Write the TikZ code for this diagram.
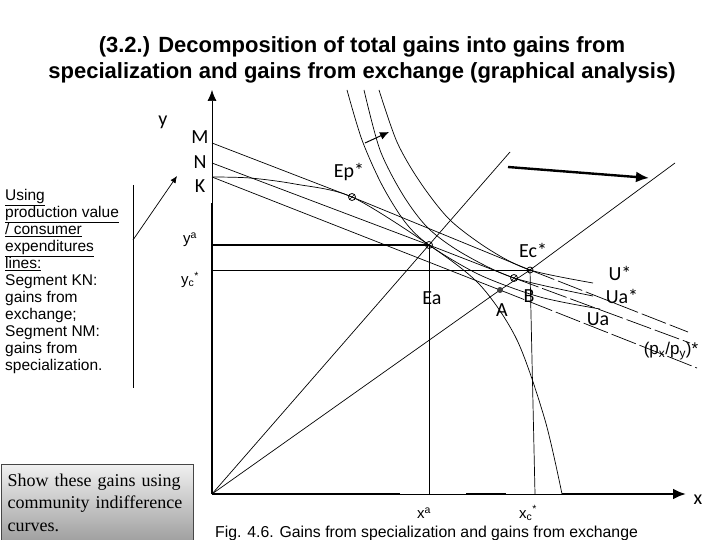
\documentclass[tikz,border=0pt]{standalone}
\usepackage{fontspec}
\setmainfont{Liberation Sans}
\newfontfamily\calfont{Carlito}
\newfontfamily\boxfont{Liberation Serif}
\usetikzlibrary{arrows.meta,positioning,calc}
\definecolor{boxtop}{RGB}{240,240,240}
\definecolor{boxbot}{RGB}{160,160,160}
\definecolor{boxedge}{RGB}{70,70,70}

\begin{document}
\begin{tikzpicture}[x=1pt, y=-1pt,
    thin line/.style={line width=0.7pt},
    gappy/.style={line width=0.7pt, dash pattern=on 26pt off 4pt},
    thick axis/.style={line width=2.6pt},
    lbl/.style={font=\calfont\fontsize{20}{20}\selectfont, inner sep=0pt},
    axlbl/.style={font=\fontsize{15}{15}\selectfont, inner sep=0pt},
    pt/.style={circle, draw, line width=0.8pt, minimum size=7pt, inner sep=0pt,
      path picture={\draw[line width=0.6pt] (path picture bounding box.south west) -- (path picture bounding box.north east);}},
    >=Latex
]
\useasboundingbox (0,0) rectangle (720,540);

% Title
\node[font=\bfseries\fontsize{22}{26}\selectfont, align=center] (title) at (362,60)
  {(3.2.) Decomposition of total gains into gains from\\
   specialization and gains from exchange (graphical analysis)};

% Points
\coordinate (O) at (212,494);
\coordinate (ytop) at (212,90);
\coordinate (ythick) at (212,203);
\coordinate (xend) at (686,494);
\coordinate (M) at (212,143);
\coordinate (N) at (212,163);
\coordinate (K) at (212,177);
\coordinate (Ep) at (352,197);
\coordinate (Ea) at (429,245);
\coordinate (Ec) at (530,270);
\coordinate (xc) at (535,494);
\coordinate (A) at (500,290);
\coordinate (B) at (514,278);
\coordinate (Mend) at (688,332);
\coordinate (Nend) at (690,343);
\coordinate (Kend) at (697,368);
\coordinate (rayone) at (510,152);
\coordinate (raytwo) at (675,163);

% Axes
\draw[thin line, -{Latex[length=11pt,width=9pt]}] (ythick) -- (ytop);
\draw[thick axis] (O) -- (ythick);
\draw[thin line] (O) -- (670,494);
\draw[thick axis] (O) -- (400,494);
\draw[thick axis] (466,494) -- (506,494);
\draw[thick axis, -{Latex[length=13pt,width=11pt]}] (562,494) -- (xend);
\node[lbl] (ylab) at (163,122) {y};
\node[lbl] (xlab) at (698,500) {x};
\node[lbl] (Mlab) at (200,137) {M};
\node[lbl] (Nlab) at (200,162) {N};
\node[lbl] (Klab) at (200,186) {K};

% Price lines
\draw[thin line] (M) -- (Ep) -- (Ec);
\draw[gappy] (Ec) -- (Mend);
\draw[thin line] (N) -- (Ea) -- (B);
\draw[gappy] (B) -- (Nend);
\draw[thin line] (K) -- (A);
\draw[gappy] (A) -- (Kend);
\node[font=\fontsize{17}{17}\selectfont, inner sep=0pt] (price) at (671,351) {(p\textsubscript{x}/p\textsubscript{y})*};

% Production possibility curve
\draw[thin line] plot[smooth] coordinates {(K) (250,178) (295,184) (Ep) (Ea) (480,285) (517,340) (545,420) (562,494)};

% Rays from the origin
\draw[thin line] (O) -- (rayone);
\draw[thin line] (O) -- (A) -- (Ec) -- (raytwo);

% Indifference curves
\draw[thin line] plot[smooth] coordinates {(347,90) (362,140) (382,185) (405,222) (Ea) (480,275) (540,297) (600,309)};
\draw[thin line] plot[smooth] coordinates {(364,90) (380,150) (403,195) (428,228) (462,253) (B) (593,296)};
\draw[thin line] plot[smooth] coordinates {(379,90) (397,142) (420,182) (450,220) (490,250) (Ec) (593,283)};
\node[lbl] (Ustar) at (620,273) {U*};
\node[lbl] (Uastar) at (622,296) {Ua*};
\node[lbl] (Ua) at (598,319) {Ua};

% Shifts
\coordinate (shiftA) at (365,143);
\coordinate (shiftB) at (389,132);
\draw[line width=1pt, -{Latex[length=9pt,width=8pt]}] (shiftA) -- (shiftB);
\coordinate (moveA) at (508,167);
\coordinate (moveB) at (649,178);
\draw[line width=2.4pt, -{Latex[length=13pt,width=11pt]}] (moveA) -- (moveB);

% Drop lines
\draw[line width=1.6pt] (O |- Ea) -- (Ea);
\draw[thin line] (Ea) -- (Ea |- O);
\draw[thin line] (O |- Ec) -- (Ec);
\draw[thin line] (Ec) -- (xc);
\node[axlbl] (yalab) at (190,240) {y\textsuperscript{a}};
\node[axlbl] (yclab) at (190,280) {y\textsubscript{c}\textsuperscript{*}};
\node[axlbl] (xalab) at (424,513) {x\textsuperscript{a}};
\node[axlbl] (xclab) at (528,513) {x\textsubscript{c}\textsuperscript{*}};

% Equilibrium points
\node[pt] (Epdot) at (Ep) {};
\node[pt] (Eadot) at (Ea) {};
\node[pt] (Bdot) at (B) {};
\node[pt, minimum size=6pt] (Ecdot) at (Ec) {};
\node[circle, fill=black!75, minimum size=6pt, inner sep=0pt] (Adot) at (A) {};
\node[lbl] (Eplab) at (349,172) {Ep*};
\node[lbl] (Eclab) at (533,250) {Ec*};
\node[lbl] (Ealab) at (432,298) {Ea};
\node[lbl] (Alab) at (502,310) {A};
\node[lbl] (Blab) at (529,296) {B};

% Side note
\node[font=\fontsize{15.5}{17}\selectfont, align=left, anchor=north west, inner sep=0pt] (note) at (5,189)
  {\underline{Using}\\ \underline{production value}\\ \underline{/ consumer}\\ \underline{expenditures}\\
   \underline{lines:}\\ Segment KN:\\ gains from\\ exchange;\\ Segment NM:\\ gains from\\ specialization.};
\coordinate (barTop) at (133,185);
\coordinate (barBot) at (133,388);
\coordinate (barMid) at (133,240);
\coordinate (toK) at (177,176);
\draw[thin line] (barTop) -- (barBot);
\draw[thin line, -{Latex[length=7pt,width=6pt]}] (barMid) -- (toK);

% Box and caption
\node[draw=boxedge, line width=1.2pt, top color=boxtop, bottom color=boxbot, anchor=north west,
      minimum width=192pt, minimum height=76pt, text width=180pt, align=left, inner sep=6pt,
      font=\boxfont\fontsize{18}{22.5}\selectfont] (task) at (1,464)
  {Show these gains using community indifference curves.};
\node[font=\fontsize{15.8}{16}\selectfont, anchor=west, inner sep=0pt] (caption) at (215,533)
  {Fig. 4.6. Gains from specialization and gains from exchange};
\end{tikzpicture}
\end{document}
